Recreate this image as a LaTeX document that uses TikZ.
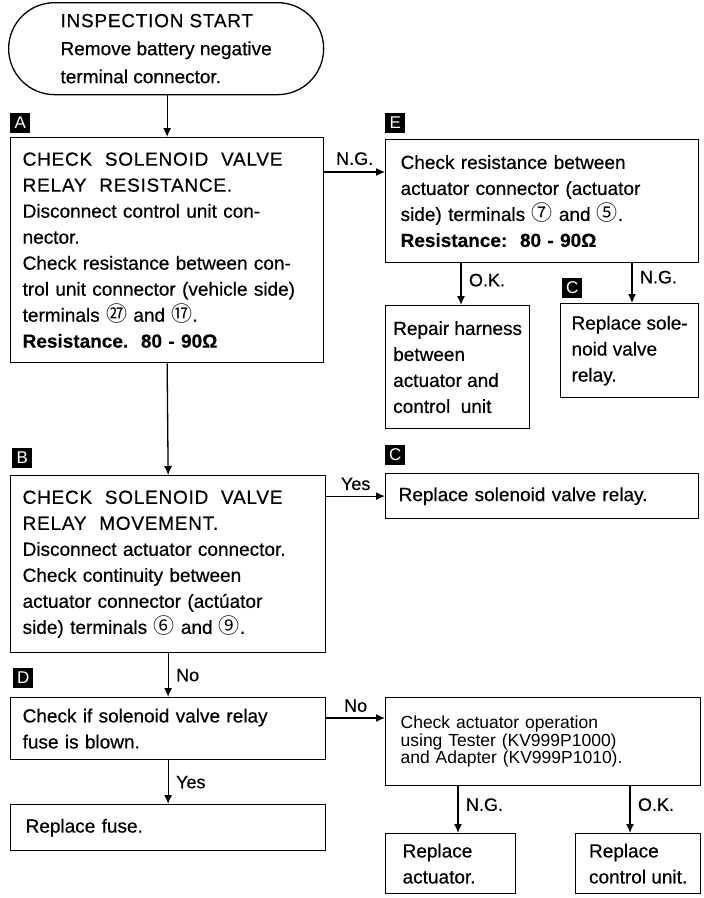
\documentclass[tikz,border=0pt]{standalone}
\usepackage{fontspec}
\setmainfont{Liberation Sans}[FakeBold=0.5]
\newfontfamily\cjk{Noto Sans CJK SC}
\newfontfamily\testerfont{Liberation Sans}
\newfontfamily\capsfont{Liberation Sans}[FakeBold=0.5, LetterSpace=4]
\usetikzlibrary{arrows.meta,positioning}
\newcommand\cnum[1]{{\cjk\fontsize{21}{26}\selectfont #1}}
\newcommand\caps[1]{{\capsfont #1}}
\newcommand\bodyfont{\fontsize{19}{26}\selectfont}
\newcommand\smallfont{\testerfont\fontsize{17.5}{17.5}\selectfont}
\newcommand\lblfont{\fontsize{18}{20}\selectfont}
\tikzset{
  stepbox/.style={draw, line width=1.3pt, align=left, anchor=north west,
    inner xsep=12pt, inner ysep=0pt, font=\bodyfont},
  startbox/.style={draw, line width=1.3pt, rounded corners=46pt,
    anchor=north west, align=left, inner sep=0pt,
    font=\fontsize{19}{28}\selectfont},
  tag/.style={fill=black, text=white, minimum size=20pt, inner sep=0pt,
    font=\testerfont\fontsize{17}{17}\selectfont},
  arrow/.style={-{Latex[length=9pt,width=8pt]}, line width=1.3pt},
  lbl/.style={font=\lblfont, midway},
}

\begin{document}
\begin{tikzpicture}[x=1pt, y=-1pt]

  \useasboundingbox (0,0) rectangle (704,898);

  \node[startbox, minimum width=315pt, minimum height=92pt]
    (start) at (8,2)
    {\caps{INSPECTION\ START}\\Remove battery negative\\terminal connector.};

  % left column
  \node[stepbox, text width=289pt, minimum height=225pt] (checkA) at (10,137)
    {\caps{CHECK\ \ SOLENOID\ \ VALVE}\\\caps{RELAY\ \ RESISTANCE.}\\
     Disconnect control unit con-\\nector.\\
     Check resistance between con-\\trol unit connector (vehicle side)\\
     terminals \cnum{㉗} and \cnum{⑰}.\\
     {\bfseries Resistance.\ \ 80 - 90Ω}};

  \node[stepbox, text width=291pt, minimum height=177pt] (checkB) at (10,475)
    {\caps{CHECK\ \ SOLENOID\ \ VALVE}\\\caps{RELAY\ \ MOVEMENT.}\\
     Disconnect actuator connector.\\Check continuity between\\
     actuator connector (actúator\\side) terminals \cnum{⑥} and \cnum{⑨}.};

  \node[stepbox, text width=291pt, minimum height=62pt] (checkD) at (10,697)
    {Check if solenoid valve relay\\fuse is blown.};

  \node[stepbox, inner xsep=15pt, text width=285pt, minimum height=46pt]
    (fuse) at (10,804) {Replace fuse.};

  % right column
  \node[stepbox, inner xsep=15pt, text width=283pt, minimum height=123pt]
    (checkE) at (385,139)
    {Check resistance between\\actuator connector (actuator\\
     side) terminals \cnum{⑦} and \cnum{⑤}.\\
     {\bfseries Resistance:\ \ 80 - 90Ω}};

  \node[stepbox, inner xsep=0pt, minimum width=144pt, minimum height=123pt]
    (repair) at (385,305)
    {Repair harness\\between\\actuator and\\control\ \ unit};

  \node[stepbox, inner xsep=0pt, minimum width=138pt, minimum height=94pt]
    (relayE) at (560,303) {Replace sole-\\noid valve\\relay.};

  \node[stepbox, inner xsep=13pt, text width=287pt, minimum height=45pt]
    (relayB) at (385,473) {Replace solenoid valve relay.};

  \node[stepbox, inner xsep=15pt, text width=285pt, minimum height=88pt,
        font=\smallfont] (tester) at (385,697)
    {Check actuator operation\\using Tester (KV999P1000)\\
     and Adapter (KV999P1010).};

  \node[stepbox, inner xsep=17pt, text width=96pt, minimum height=60pt]
    (actuator) at (385,833) {Replace\\actuator.};

  \node[stepbox, inner xsep=0pt, minimum width=125pt, minimum height=60pt]
    (ctrlunit) at (575,833) {Replace\\control unit.};

  % letter tags
  \node[tag, above right=4pt and 0pt of checkA.north west] (tagA) {A};
  \node[tag, above right=6pt and 0pt of checkE.north west] (tagE) {E};
  \node[tag, above right=5pt and 2pt of relayE.north west] (tagC1) {C};
  \node[tag, above right=7pt and 2pt of checkB.north west] (tagB) {B};
  \node[tag, above right=8pt and 0pt of relayB.north west] (tagC2) {C};
  \node[tag, above right=9pt and 3pt of checkD.north west] (tagD) {D};

  % connectors
  \draw[arrow] (checkA.north |- start.south) -- (checkA.north);
  \draw[arrow] (checkA.south) -- (checkB.north);
  \draw[arrow] (checkB.south) -- node[lbl, right=4pt]{No} (checkD.north);
  \draw[arrow] (checkD.south) -- node[lbl, right=4pt]{Yes} (fuse.north);

  \draw[arrow] ([yshift=-35pt]checkA.north east)
    -- node[lbl, above=3pt]{N.G.} ([yshift=-35pt]checkA.north east -| checkE.west);
  \draw[arrow] ([xshift=76pt]checkE.south west)
    -- node[lbl, right=4pt, yshift=4pt]{O.K.} ([xshift=76pt]checkE.south west |- repair.north);
  \draw[arrow] ([xshift=247pt]checkE.south west)
    -- node[lbl, right=4pt, yshift=6pt]{N.G.} ([xshift=247pt]checkE.south west |- relayE.north);

  \draw[arrow] (relayB.west -| checkB.east) -- node[lbl, above=2pt]{Yes} (relayB.west);

  \draw[arrow] ([yshift=-21pt]checkD.north east)
    -- node[lbl, above=2pt]{No} ([yshift=-21pt]checkD.north east -| tester.west);
  \draw[arrow] ([xshift=73pt]tester.south west)
    -- node[lbl, right=4pt, yshift=5pt]{N.G.} ([xshift=73pt]tester.south west |- actuator.north);
  \draw[arrow] ([xshift=245pt]tester.south west)
    -- node[lbl, right=4pt, yshift=5pt]{O.K.} ([xshift=245pt]tester.south west |- ctrlunit.north);

\end{tikzpicture}
\end{document}
